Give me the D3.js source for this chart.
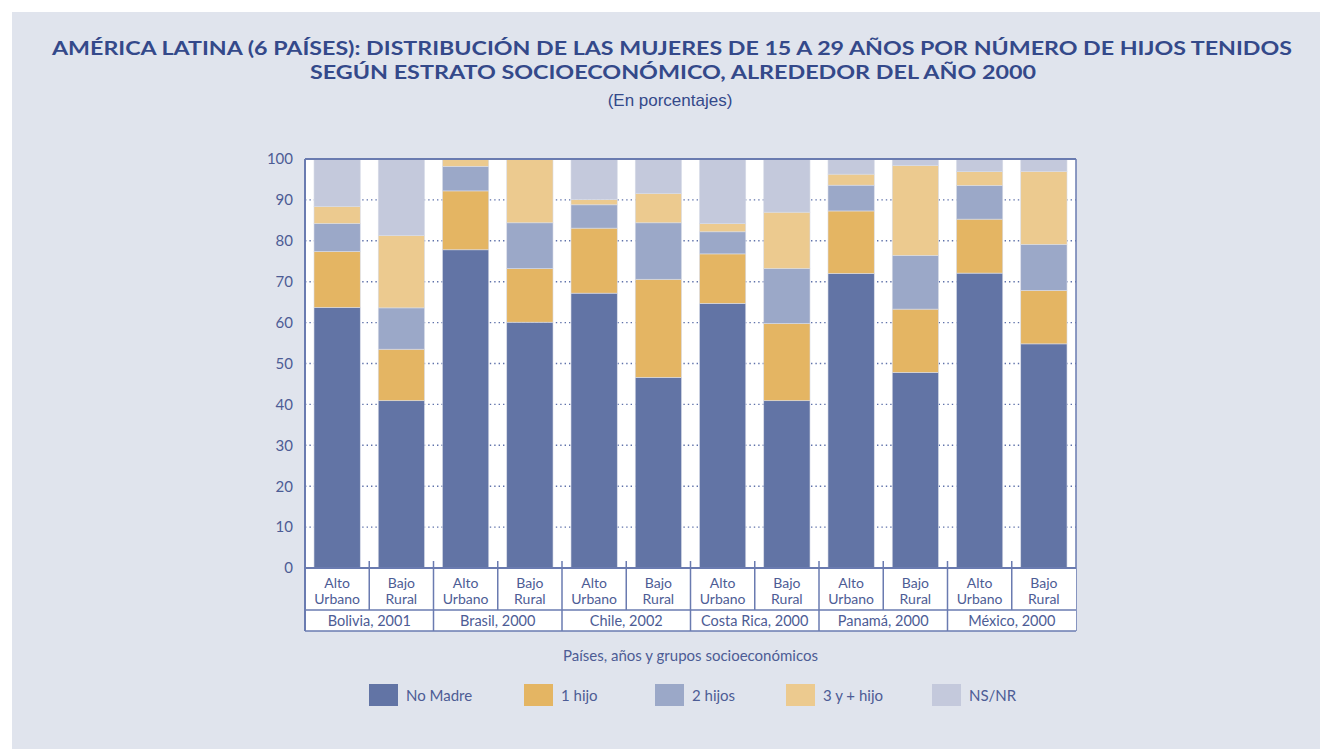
<!DOCTYPE html>
<html>
<head>
<meta charset="utf-8">
<script src="https://cdn.jsdelivr.net/npm/d3@7"></script>
<style>
  body { margin: 0; background: #fff; }
  svg { display: block; font-family: Lato, "Open Sans", sans-serif; }
</style>
</head>
<body>
<script>
// data
const countries = ["Bolivia, 2001", "Brasil, 2000", "Chile, 2002", "Costa Rica, 2000", "Panamá, 2000", "México, 2000"];
const groups = ["Alto Urbano", "Bajo Rural"];
const seriesNames = ["No Madre", "1 hijo", "2 hijos", "3 y + hijo", "NS/NR"];
const noMadre = [63.7, 40.9, 77.8, 60.1, 67.2, 46.6, 64.7, 40.9, 72.0, 47.8, 72.1, 54.8];
const unHijo  = [13.7, 12.6, 14.4, 13.1, 15.9, 24.0, 12.1, 18.9, 15.3, 15.5, 13.2, 13.1];
const dosHijos = [6.8, 10.1, 6.0, 11.2, 5.7, 13.8, 5.4, 13.4, 6.3, 13.1, 8.2, 11.2];
const tresMas = [4.2, 17.7, 1.8, 15.6, 1.3, 7.2, 2.0, 13.8, 2.7, 22.0, 3.4, 17.9];
const nsnr    = [11.6, 18.7, 0.0, 0.0, 9.9, 8.4, 15.8, 13.0, 3.7, 1.6, 3.1, 3.0];
const yTicks = [0, 10, 20, 30, 40, 50, 60, 70, 80, 90, 100];
const colors = ["#6274a5", "#e4b563", "#9ba8c8", "#ecca8f", "#c4c9dc"];

const W = 1320, H = 749;
const textCol = "#4d5c95", lineCol = "#6a7bb0";
const margin = {left: 305, right: 244, top: 159, bottom: 181};
const pw = W - margin.left - margin.right, ph = H - margin.top - margin.bottom;

const svg = d3.select("body").append("svg").attr("width", W).attr("height", H);
svg.append("rect").attr("x", 12).attr("y", 12).attr("width", W - 12).attr("height", H - 12).attr("fill", "#e0e4ed");

// titles
svg.append("text").attr("x", 672).attr("y", 55).attr("text-anchor", "middle")
  .attr("font-size", 18).attr("font-weight", "bold").attr("fill", "#34498a")
  .attr("textLength", 1240).attr("lengthAdjust", "spacingAndGlyphs")
  .text("AMÉRICA LATINA (6 PAÍSES): DISTRIBUCIÓN DE LAS MUJERES DE 15 A 29 AÑOS POR NÚMERO DE HIJOS TENIDOS");
svg.append("text").attr("x", 673).attr("y", 79).attr("text-anchor", "middle")
  .attr("font-size", 18).attr("font-weight", "bold").attr("fill", "#34498a")
  .attr("textLength", 726).attr("lengthAdjust", "spacingAndGlyphs")
  .text("SEGÚN ESTRATO SOCIOECONÓMICO, ALREDEDOR DEL AÑO 2000");
svg.append("text").attr("x", 670).attr("y", 106).attr("text-anchor", "middle")
  .attr("font-size", 17).attr("font-family", "Liberation Sans, Arial, sans-serif").attr("fill", "#34498a")
  .text("(En porcentajes)");

// bars
const bars = [];
countries.forEach((c, i) => groups.forEach((g, j) => bars.push({country: c, group: g, idx: i * 2 + j})));
const table = bars.map((b, k) => {
  const r = {key: k};
  r[seriesNames[0]] = noMadre[k]; r[seriesNames[1]] = unHijo[k];
  r[seriesNames[2]] = dosHijos[k]; r[seriesNames[3]] = tresMas[k]; r[seriesNames[4]] = nsnr[k];
  return r;
});

const x = d3.scaleBand().domain(d3.range(bars.length)).range([0, pw]).paddingInner(0.28).paddingOuter(0.14);
const xStep = d3.scaleBand().domain(d3.range(bars.length)).range([0, pw]);
const y = d3.scaleLinear().domain([0, 100]).range([ph, 0]);

const g = svg.append("g").attr("transform", "translate(" + margin.left + "," + margin.top + ")");
g.append("rect").attr("width", pw).attr("height", ph).attr("fill", "#fff");

// grid
g.selectAll(".grid").data(yTicks.filter(d => d > 0 && d < 100)).enter().append("line")
  .attr("x1", 0).attr("x2", pw).attr("y1", d => y(d)).attr("y2", d => y(d))
  .attr("stroke", "#5f72aa").attr("stroke-width", 1.4).attr("stroke-dasharray", "1.4,3");

const stack = d3.stack().keys(seriesNames)(table);
g.selectAll(".series").data(stack).enter().append("g")
  .attr("fill", (d, i) => colors[i])
  .selectAll("rect").data(d => d).enter().append("rect")
  .attr("x", d => x(d.data.key)).attr("width", x.bandwidth())
  .attr("y", d => y(d[1])).attr("height", d => Math.max(0, y(d[0]) - y(d[1])))
  .attr("stroke", "#d8dce8").attr("stroke-width", 0.6);

// y axis labels
const yAxis = d3.axisLeft(y).tickValues(yTicks).tickSize(0).tickPadding(12);
const ya = g.append("g").call(yAxis);
ya.select(".domain").remove();
ya.selectAll("text").attr("font-size", 15).attr("fill", textCol).attr("font-family", "Lato, sans-serif");

// frame
const row1 = 42, row2 = 63;
g.append("line").attr("x1", 0).attr("x2", pw).attr("y1", 0).attr("y2", 0).attr("stroke", lineCol).attr("stroke-width", 2);
g.append("line").attr("x1", pw).attr("x2", pw).attr("y1", 0).attr("y2", ph + row2).attr("stroke", lineCol).attr("stroke-width", 1.5);
g.append("line").attr("x1", 0).attr("x2", 0).attr("y1", 0).attr("y2", ph + row2).attr("stroke", lineCol).attr("stroke-width", 2);

// category table below
g.append("rect").attr("x", 0).attr("y", ph).attr("width", pw).attr("height", row2).attr("fill", "#fff");
[ph, ph + row1, ph + row2].forEach((yy, i) => g.append("line").attr("x1", 0).attr("x2", pw)
  .attr("y1", yy).attr("y2", yy).attr("stroke", lineCol).attr("stroke-width", i === 0 ? 2 : 1.5));
d3.range(1, bars.length).forEach(k => {
  const xx = xStep(k);
  g.append("line").attr("x1", xx).attr("x2", xx).attr("y1", ph - 7)
    .attr("y2", k % 2 === 0 ? ph + row2 : ph + row1).attr("stroke", lineCol).attr("stroke-width", 1.5);
});
g.append("line").attr("x1", 0).attr("x2", 0).attr("y1", ph - 7).attr("y2", ph + row2).attr("stroke", lineCol).attr("stroke-width", 2);

const lab = g.selectAll(".lab").data(bars).enter().append("text")
  .attr("text-anchor", "middle").attr("font-size", 14).attr("fill", textCol)
  .attr("transform", d => "translate(" + (xStep(d.idx) + xStep.bandwidth() / 2) + "," + (ph + 20) + ")");
lab.append("tspan").attr("x", 0).attr("y", 0).text(d => d.group.split(" ")[0]);
lab.append("tspan").attr("x", 0).attr("y", 15.5).text(d => d.group.split(" ")[1]);

g.selectAll(".ctry").data(countries).enter().append("text")
  .attr("text-anchor", "middle").attr("font-size", 14.5).attr("fill", textCol)
  .attr("x", (d, i) => xStep(i * 2) + xStep.bandwidth())
  .attr("y", ph + row1 + 16).text(d => d);

// axis title
svg.append("text").attr("x", margin.left + pw / 2).attr("y", 661).attr("text-anchor", "middle")
  .attr("font-size", 15).attr("fill", textCol).text("Países,  años y grupos socioeconómicos");

// legend
const legX = [369, 524, 655, 786, 932];
const leg = svg.selectAll(".leg").data(seriesNames).enter().append("g")
  .attr("transform", (d, i) => "translate(" + legX[i] + ",684)");
leg.append("rect").attr("width", 29).attr("height", 22).attr("fill", (d, i) => colors[i]);
leg.append("text").attr("x", 37).attr("y", 17).attr("font-size", 15).attr("fill", textCol).text(d => d);
</script>
</body>
</html>
